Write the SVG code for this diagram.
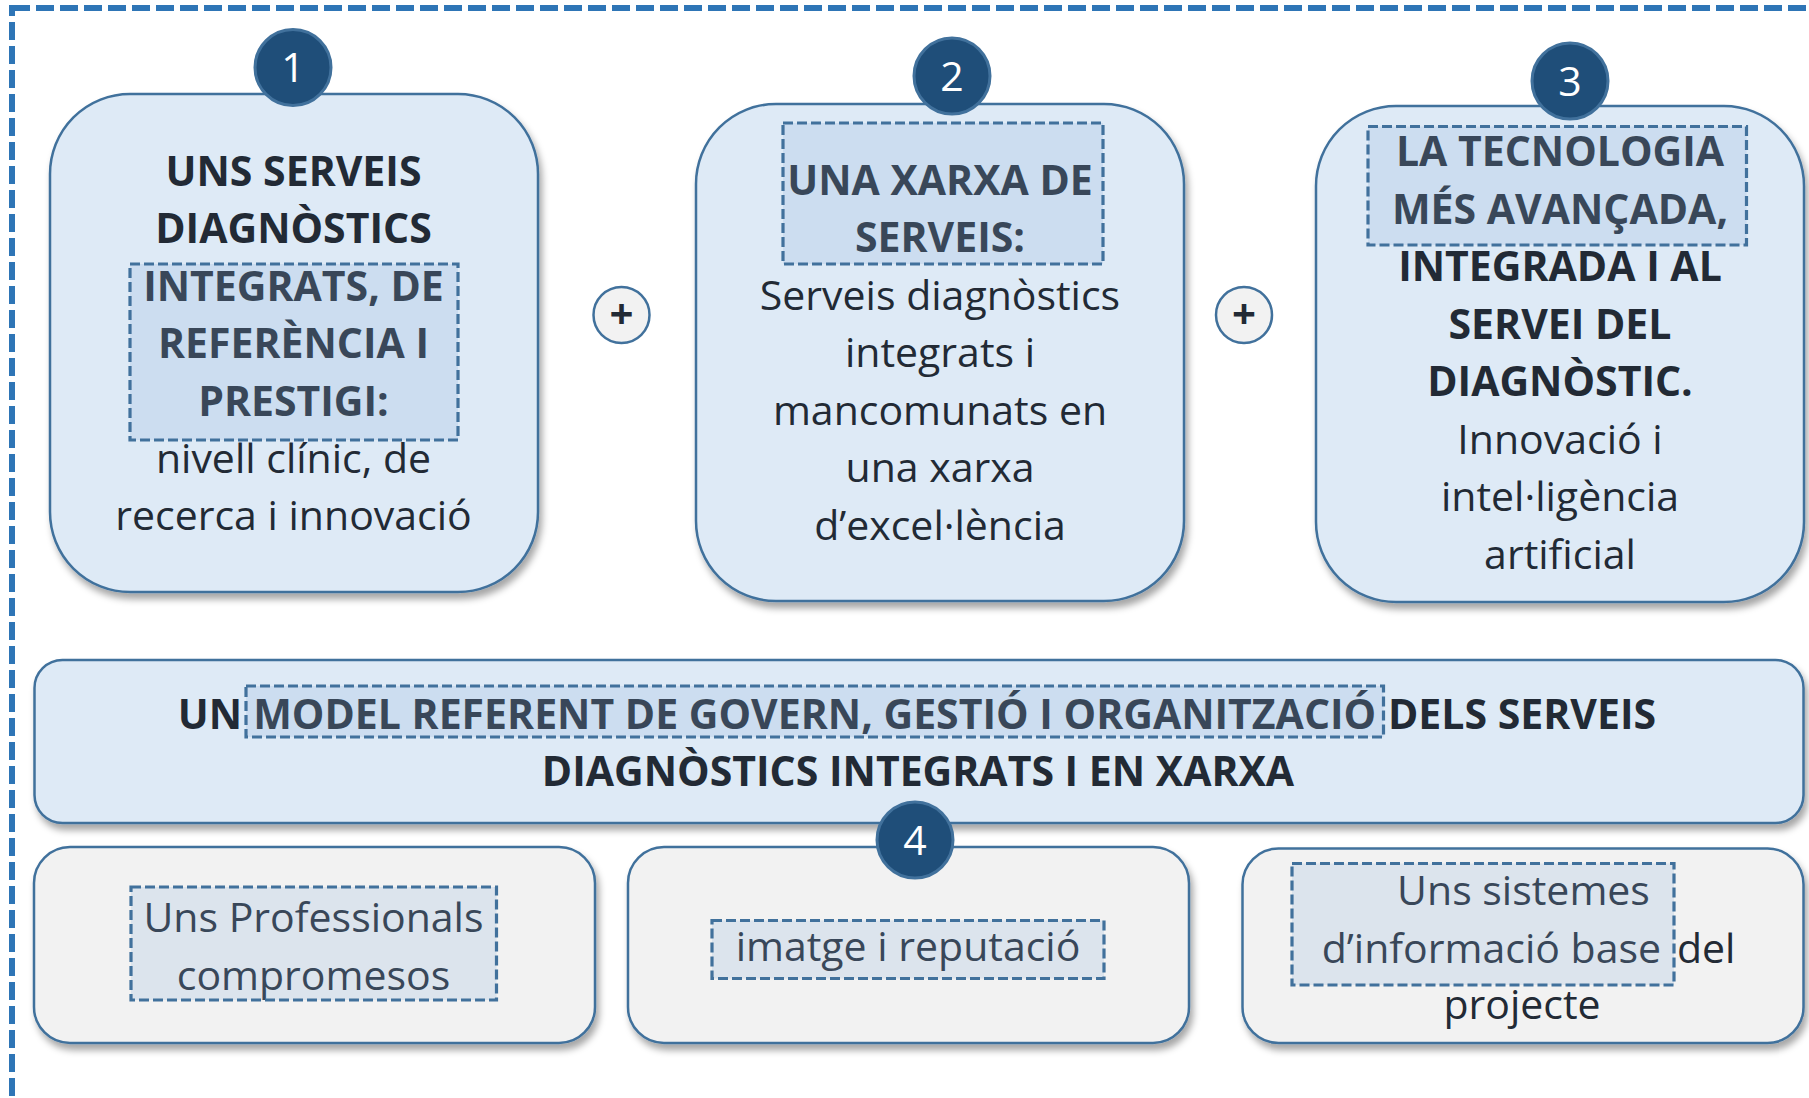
<svg xmlns="http://www.w3.org/2000/svg" width="1809" height="1098" viewBox="0 0 1809 1098">
<style>
.t{font-family:"Open Sans","Noto Sans","Liberation Sans",sans-serif;font-size:41px;fill:#222A35;text-anchor:middle}
.b{font-weight:700}
.main{fill:#DEEAF6;stroke:#41719C;stroke-width:2.5}
.sub{fill:#F2F2F2;stroke:#41719C;stroke-width:2.5}
.hl{fill:#8FB0DA;fill-opacity:0.22;stroke:#41719C;stroke-width:3.2;stroke-dasharray:10 4}
.num{fill:#1F4E79;stroke:#41719C;stroke-width:3}
.numt{font-family:"Open Sans","Noto Sans","Liberation Sans",sans-serif;font-size:41px;fill:#FFFFFF;text-anchor:middle}
.plus{fill:#F2F2F2;stroke:#41719C;stroke-width:2.5}
.plust{font-family:"Open Sans","Noto Sans","Liberation Sans",sans-serif;font-size:42px;font-weight:700;fill:#222A35;text-anchor:middle}
</style>
<defs>
<filter id="sh" x="-10%" y="-10%" width="125%" height="130%">
<feDropShadow dx="3" dy="6" stdDeviation="3.5" flood-color="#000" flood-opacity="0.35"/>
</filter>
</defs>
<rect id="frame" x="12" y="8" width="1840" height="1140" fill="none" stroke="#2E75B6" stroke-width="6" stroke-dasharray="18 6"/>

<g id="box1">
<rect class="main" x="50" y="94" width="488" height="498" rx="80" filter="url(#sh)"/>
<text class="t b" x="293.5" y="186">UNS SERVEIS</text>
<text class="t b" x="293.5" y="243.4">DIAGNÒSTICS</text>
<text class="t b" x="293.5" y="300.8">INTEGRATS, DE</text>
<text class="t b" x="293.5" y="358.2">REFERÈNCIA I</text>
<text class="t b" x="293.5" y="415.6">PRESTIGI:</text>
<text class="t" x="293.5" y="473">nivell clínic, de</text>
<text class="t" x="293.5" y="530.4">recerca i innovació</text>
<rect class="hl" x="130" y="264" width="328" height="176"/>
</g>

<g id="box2">
<rect class="main" x="696" y="104" width="488" height="497" rx="80" filter="url(#sh)"/>
<text class="t b" x="940" y="194.5">UNA XARXA DE</text>
<text class="t b" x="940" y="252">SERVEIS:</text>
<text class="t" x="940" y="309.5">Serveis diagnòstics</text>
<text class="t" x="940" y="367">integrats i</text>
<text class="t" x="940" y="424.5">mancomunats en</text>
<text class="t" x="940" y="482">una xarxa</text>
<text class="t" x="940" y="539.5">d’excel·lència</text>
<rect class="hl" x="783" y="123" width="320" height="141"/>
</g>

<g id="box3">
<rect class="main" x="1316" y="106" width="488" height="496" rx="80" filter="url(#sh)"/>
<text class="t b" x="1560" y="166">LA TECNOLOGIA</text>
<text class="t b" x="1560" y="223.5">MÉS AVANÇADA,</text>
<text class="t b" x="1560" y="281">INTEGRADA I AL</text>
<text class="t b" x="1560" y="338.5">SERVEI DEL</text>
<text class="t b" x="1560" y="396">DIAGNÒSTIC.</text>
<text class="t" x="1560" y="453.5">Innovació i</text>
<text class="t" x="1560" y="511">intel·ligència</text>
<text class="t" x="1560" y="568.5">artificial</text>
<rect class="hl" x="1368" y="126.5" width="378.5" height="118.5"/>
</g>

<g id="band">
<rect class="main" x="34.5" y="660" width="1769" height="163" rx="28" filter="url(#sh)"/>
<text class="t b" x="242" y="729" style="text-anchor:end">UN</text>
<text class="t b" x="814.7" y="729">MODEL REFERENT DE GOVERN, GESTIÓ I ORGANITZACIÓ</text>
<text class="t b" x="1388" y="729" style="text-anchor:start">DELS SERVEIS</text>
<text class="t b" x="918" y="786">DIAGNÒSTICS INTEGRATS I EN XARXA</text>
<rect class="hl" x="246" y="686" width="1137.5" height="51"/>
</g>

<g id="boxA">
<rect class="sub" x="34" y="847" width="561" height="196" rx="36" filter="url(#sh)"/>
<text class="t" x="313.5" y="932">Uns Professionals</text>
<text class="t" x="313.5" y="990">compromesos</text>
<rect class="hl" x="131" y="887" width="365.5" height="113"/>
</g>

<g id="boxB">
<rect class="sub" x="628" y="847" width="561" height="196" rx="36" filter="url(#sh)"/>
<text class="t" x="908" y="961">imatge i reputació</text>
<rect class="hl" x="712" y="920.5" width="392" height="58"/>
</g>

<g id="boxC">
<rect class="sub" x="1242.5" y="848.5" width="561" height="194.5" rx="36" filter="url(#sh)"/>
<text class="t" x="1523.5" y="904.5">Uns sistemes</text>
<text class="t" x="1661" y="963" style="text-anchor:end">d’informació base</text>
<text class="t" x="1677" y="963" style="text-anchor:start">del</text>
<text class="t" x="1522" y="1019">projecte</text>
<rect class="hl" x="1292" y="863.5" width="382" height="121.5"/>
</g>

<g id="connectors">
<g id="plus1"><circle class="plus" cx="621.5" cy="315" r="28"/><text class="plust" x="621.5" y="329">+</text></g>
<g id="plus2"><circle class="plus" cx="1244" cy="315" r="28"/><text class="plust" x="1244" y="329">+</text></g>
</g>

<g id="n1"><circle class="num" cx="293" cy="67.5" r="38"/><text class="numt" x="293" y="82">1</text></g>
<g id="n2"><circle class="num" cx="952" cy="76" r="38"/><text class="numt" x="952" y="90.5">2</text></g>
<g id="n3"><circle class="num" cx="1570" cy="81" r="38"/><text class="numt" x="1570" y="95.5">3</text></g>
<g id="n4"><circle class="num" cx="915" cy="840" r="38"/><text class="numt" x="915" y="854.5">4</text></g>
</svg>
